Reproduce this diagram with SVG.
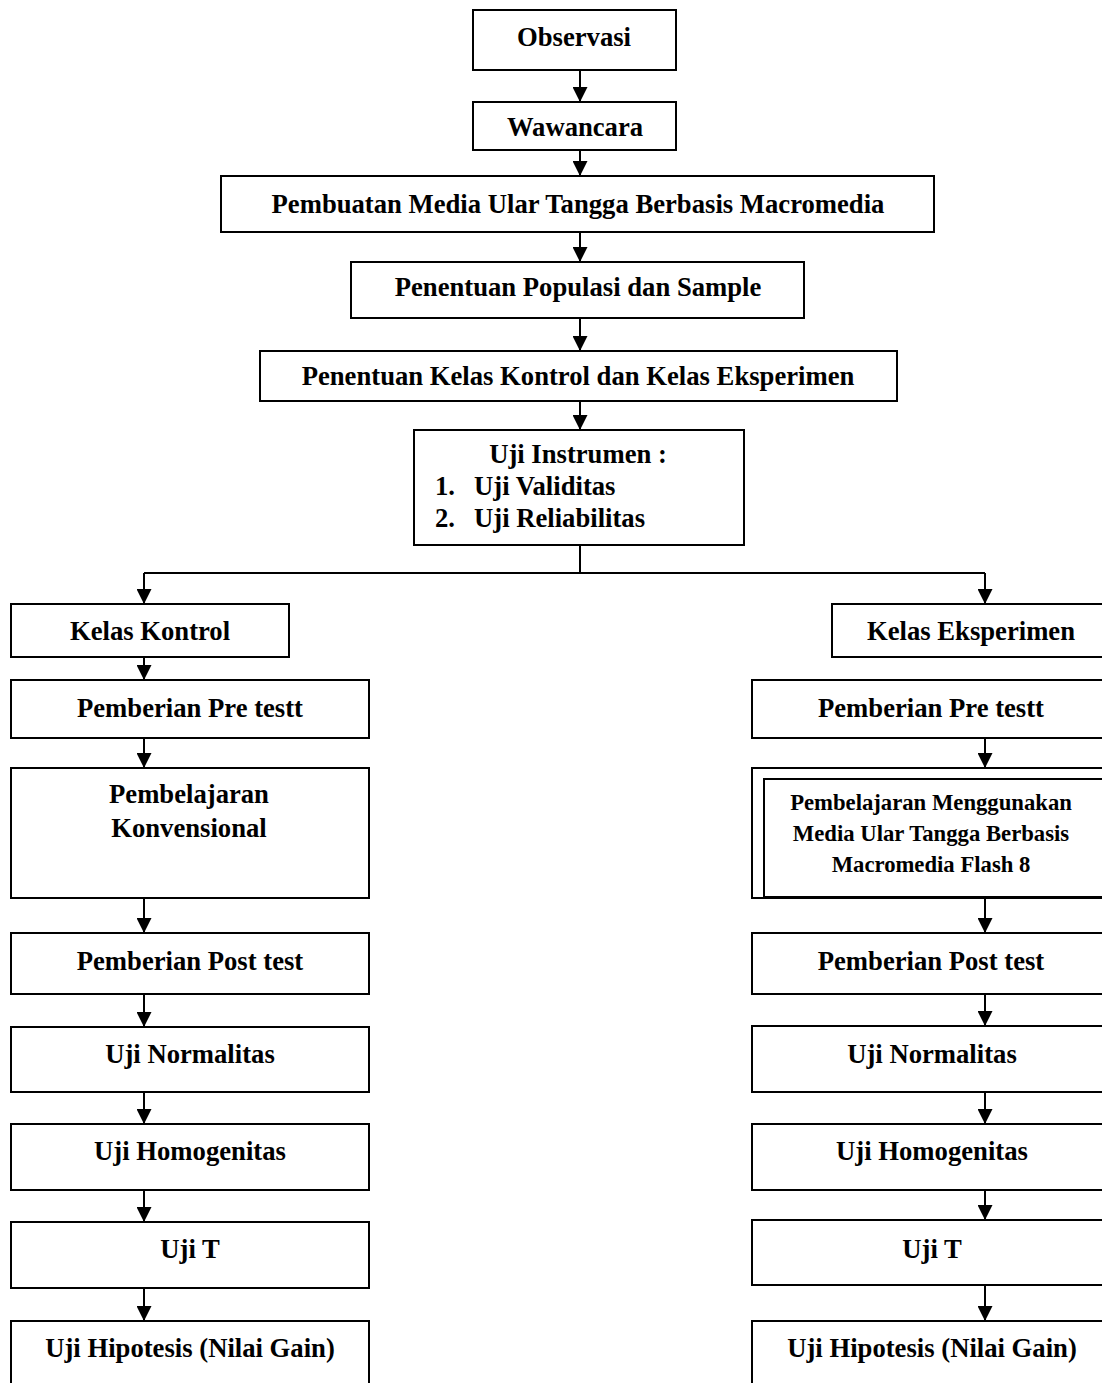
<svg xmlns="http://www.w3.org/2000/svg" width="1102" height="1383" viewBox="0 0 1102 1383">
<style>
.box{fill:#fff;stroke:#000;stroke-width:2}
.t{font-family:"Liberation Serif","Times New Roman",serif;font-weight:bold;font-size:26.67px;fill:#000;text-anchor:middle}
.ts{font-family:"Liberation Serif","Times New Roman",serif;font-weight:bold;font-size:22.7px;fill:#000;text-anchor:middle}
.tl{font-family:"Liberation Serif","Times New Roman",serif;font-weight:bold;font-size:26.67px;fill:#000}
.c{fill:none;stroke:#000;stroke-width:2}
</style>
<defs>
<marker id="ah" viewBox="0 0 15 15" refX="15" refY="7.5" markerWidth="15" markerHeight="15" markerUnits="userSpaceOnUse" orient="auto">
<path d="M0,0 L15,7.5 L0,15 z" fill="#000"/>
</marker>
</defs>
<rect width="1102" height="1383" fill="#fff"/>
<g id="connectors">
<path class="c" d="M580,70 V102" marker-end="url(#ah)"/>
<path class="c" d="M580,150 V176" marker-end="url(#ah)"/>
<path class="c" d="M580,232 V262" marker-end="url(#ah)"/>
<path class="c" d="M580,318 V351" marker-end="url(#ah)"/>
<path class="c" d="M580,401 V430" marker-end="url(#ah)"/>
<path class="c" d="M580,545 V573"/>
<path class="c" d="M144,573 H985"/>
<path class="c" d="M144,573 V604" marker-end="url(#ah)"/>
<path class="c" d="M985,573 V604" marker-end="url(#ah)"/>
<path class="c" d="M144,657 V680" marker-end="url(#ah)"/>
<path class="c" d="M144,738 V768" marker-end="url(#ah)"/>
<path class="c" d="M144,898 V933" marker-end="url(#ah)"/>
<path class="c" d="M144,994 V1027" marker-end="url(#ah)"/>
<path class="c" d="M144,1092 V1124" marker-end="url(#ah)"/>
<path class="c" d="M144,1190 V1222" marker-end="url(#ah)"/>
<path class="c" d="M144,1288 V1321" marker-end="url(#ah)"/>
<path class="c" d="M985,738 V768" marker-end="url(#ah)"/>
<path class="c" d="M985,898 V933" marker-end="url(#ah)"/>
<path class="c" d="M985,994 V1026" marker-end="url(#ah)"/>
<path class="c" d="M985,1092 V1124" marker-end="url(#ah)"/>
<path class="c" d="M985,1190 V1220" marker-end="url(#ah)"/>
<path class="c" d="M985,1285 V1321" marker-end="url(#ah)"/>
</g>
<g id="observasi"><rect class="box" x="473" y="10" width="203" height="60"/><text class="t" x="574" y="46">Observasi</text></g>
<g id="wawancara"><rect class="box" x="473" y="102" width="203" height="48"/><text class="t" x="575" y="136">Wawancara</text></g>
<g id="pembuatan"><rect class="box" x="221" y="176" width="713" height="56"/><text class="t" x="578" y="213">Pembuatan Media Ular Tangga Berbasis Macromedia</text></g>
<g id="populasi"><rect class="box" x="351" y="262" width="453" height="56"/><text class="t" x="578" y="296">Penentuan Populasi dan Sample</text></g>
<g id="penentuan-kelas"><rect class="box" x="260" y="351" width="637" height="50"/><text class="t" x="578" y="385">Penentuan Kelas Kontrol dan Kelas Eksperimen</text></g>
<g id="uji-instrumen"><rect class="box" x="414" y="430" width="330" height="115"/>
<text class="t" x="578" y="463">Uji Instrumen :</text>
<text class="tl" x="435" y="495">1.</text><text class="tl" x="474" y="495">Uji Validitas</text>
<text class="tl" x="435" y="527">2.</text><text class="tl" x="474" y="527">Uji Reliabilitas</text>
</g>
<g id="kelas-kontrol"><rect class="box" x="11" y="604" width="278" height="53"/><text class="t" x="150" y="640">Kelas Kontrol</text></g>
<g id="pretest-kontrol"><rect class="box" x="11" y="680" width="358" height="58"/><text class="t" x="190" y="717">Pemberian Pre testt</text></g>
<g id="pembelajaran-konvensional"><rect class="box" x="11" y="768" width="358" height="130"/><text class="t" x="189" y="803">Pembelajaran</text><text class="t" x="189" y="837">Konvensional</text></g>
<g id="posttest-kontrol"><rect class="box" x="11" y="933" width="358" height="61"/><text class="t" x="190" y="970">Pemberian Post test</text></g>
<g id="normalitas-kontrol"><rect class="box" x="11" y="1027" width="358" height="65"/><text class="t" x="190" y="1063">Uji Normalitas</text></g>
<g id="homogenitas-kontrol"><rect class="box" x="11" y="1124" width="358" height="66"/><text class="t" x="190" y="1160">Uji Homogenitas</text></g>
<g id="ujit-kontrol"><rect class="box" x="11" y="1222" width="358" height="66"/><text class="t" x="190" y="1258">Uji T</text></g>
<g id="hipotesis-kontrol"><rect class="box" x="11" y="1321" width="358" height="80"/><text class="t" x="190" y="1357">Uji Hipotesis (Nilai Gain)</text></g>
<g id="kelas-eksperimen"><rect class="box" x="832" y="604" width="290" height="53"/><text class="t" x="971" y="640">Kelas Eksperimen</text></g>
<g id="pretest-eksperimen"><rect class="box" x="752" y="680" width="370" height="58"/><text class="t" x="931" y="717">Pemberian Pre testt</text></g>
<g id="pembelajaran-media"><rect class="box" x="752" y="768" width="370" height="130"/><rect class="box" x="764" y="779" width="358" height="118"/>
<text class="ts" x="931" y="810">Pembelajaran Menggunakan</text>
<text class="ts" x="931" y="841">Media Ular Tangga Berbasis</text>
<text class="ts" x="931" y="872">Macromedia Flash 8</text></g>
<g id="posttest-eksperimen"><rect class="box" x="752" y="933" width="370" height="61"/><text class="t" x="931" y="970">Pemberian Post test</text></g>
<g id="normalitas-eksperimen"><rect class="box" x="752" y="1026" width="370" height="66"/><text class="t" x="932" y="1063">Uji Normalitas</text></g>
<g id="homogenitas-eksperimen"><rect class="box" x="752" y="1124" width="370" height="66"/><text class="t" x="932" y="1160">Uji Homogenitas</text></g>
<g id="ujit-eksperimen"><rect class="box" x="752" y="1220" width="370" height="65"/><text class="t" x="932" y="1258">Uji T</text></g>
<g id="hipotesis-eksperimen"><rect class="box" x="752" y="1321" width="370" height="80"/><text class="t" x="932" y="1357">Uji Hipotesis (Nilai Gain)</text></g>
</svg>
